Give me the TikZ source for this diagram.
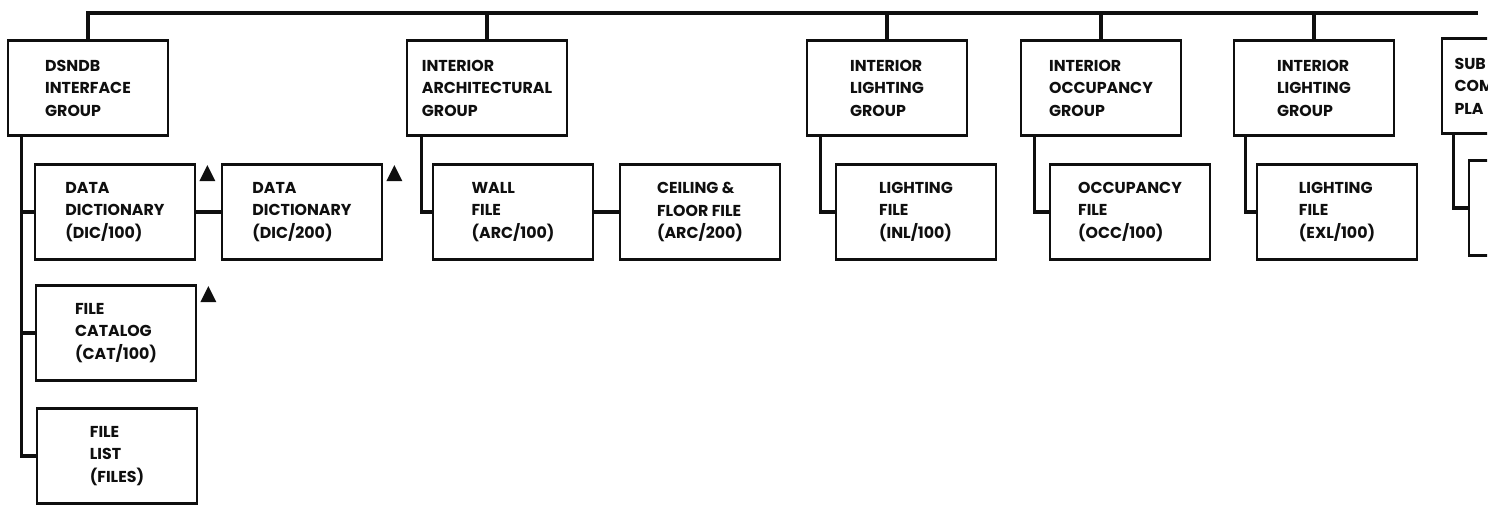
\documentclass[tikz,border=0pt]{standalone}
\usepackage{fontspec}
\setmainfont{Poppins}
\usetikzlibrary{positioning,calc}
\definecolor{ink}{RGB}{15,15,15}
\tikzset{
  grpbox/.style={draw=ink, line width=1.6pt, text=ink, align=left,
                 font=\bfseries\fontsize{9}{12.8}\selectfont,
                 minimum width=3.2cm, minimum height=1.9cm, inner sep=2pt},
  filebox/.style={grpbox},
  link/.style={draw=ink, line width=1.8pt},
}
\begin{document}
\begin{tikzpicture}[x=0.02cm, y=-0.02cm]
  \useasboundingbox (0,0) rectangle (1498,506);

  % Group boxes
  \node[grpbox] (dsndb) at (88,88)   {DSNDB\\INTERFACE\\GROUP};
  \node[grpbox] (arch)  at (487,88)  {INTERIOR\\ARCHITECTURAL\\GROUP};
  \node[grpbox] (inl)   at (887,88)  {INTERIOR\\LIGHTING\\GROUP};
  \node[grpbox] (occ)   at (1101,88) {INTERIOR\\OCCUPANCY\\GROUP};
  \node[grpbox] (exl)   at (1314,88) {INTERIOR\\LIGHTING\\GROUP};

  % File boxes
  \node[filebox] (dic1)  at (115,212)  {DATA\\DICTIONARY\\(DIC/100)};
  \node[filebox] (dic2)  at (302,212)  {DATA\\DICTIONARY\\(DIC/200)};
  \node[filebox] (cat)   at (116,333)  {FILE\\CATALOG\\(CAT/100)};
  \node[filebox] (files) at (117,456)  {FILE\\LIST\\(FILES)};
  \node[filebox] (wall)  at (513,212)  {WALL\\FILE\\(ARC/100)};
  \node[filebox] (ceil)  at (700,212)  {CEILING \&\\FLOOR FILE\\(ARC/200)};
  \node[filebox] (inlf)  at (916,212)  {LIGHTING\\FILE\\(INL/100)};
  \node[filebox] (occf)  at (1130,212) {OCCUPANCY\\FILE\\(OCC/100)};
  \node[filebox] (exlf)  at (1337,212) {LIGHTING\\FILE\\(EXL/100)};

  % Cut-off group at the right edge
  \begin{scope}
    \clip (0,0) rectangle (1487,506);
    \node[grpbox, text width=2.7cm] (sub) at (1522,86) {SUB\\COM\\PLA};
    \node[filebox] (subf) at (1549,208) {};
    \draw[link] ([xshift=0.26cm]sub.south west) |- (subf.west);
  \end{scope}

  % Top bus
  \coordinate (busend) at (1478,13);
  \draw[link] (dsndb.north) |- (busend);
  \foreach \g in {arch,inl,occ,exl}
    \draw[link] (\g.north) -- (\g.north |- busend);

  % Group to file links
  \draw[link] ([xshift=0.3cm]dsndb.south west) |- (dic1.west)
              ([xshift=0.3cm]dsndb.south west) |- (cat.west)
              ([xshift=0.3cm]dsndb.south west) |- (files.west);
  \draw[link] (dic1.east) -- (dic2.west);
  \draw[link] ([xshift=0.32cm]arch.south west) |- (wall.west);
  \draw[link] (wall.east) -- (ceil.west);
  \draw[link] ([xshift=0.3cm]inl.south west) |- (inlf.west);
  \draw[link] ([xshift=0.3cm]occ.south west) |- (occf.west);
  \draw[link] ([xshift=0.26cm]exl.south west) |- (exlf.west);

  % Flags
  \foreach \f in {dic1,dic2,cat}
    \fill[ink] ($(\f.north east)+(3,18)$) -- ++(16,0) -- ++(-8,-16) -- cycle;

\end{tikzpicture}
\end{document}
